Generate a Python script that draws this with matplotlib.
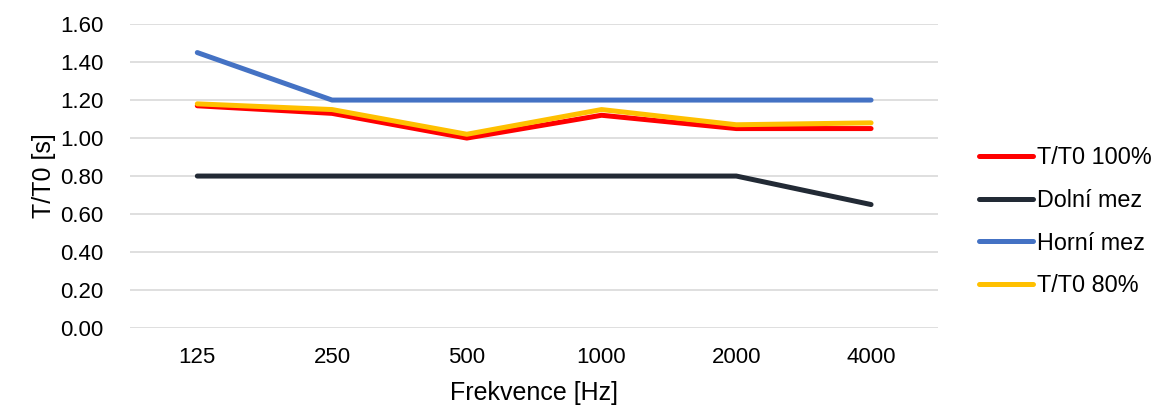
import numpy as np
import matplotlib.pyplot as plt

plt.rcParams['font.family'] = ['Liberation Sans', 'DejaVu Sans']

# data
frekvence = ['125', '250', '500', '1000', '2000', '4000']
t_100 = [1.17, 1.13, 1.00, 1.12, 1.05, 1.05]
dolni_mez = [0.80, 0.80, 0.80, 0.80, 0.80, 0.65]
horni_mez = [1.45, 1.20, 1.20, 1.20, 1.20, 1.20]
t_80 = [1.18, 1.15, 1.02, 1.15, 1.07, 1.08]

fig = plt.figure(figsize=(11.6, 4.08), dpi=100)
ax = fig.add_axes([0.112, 0.196, 0.697, 0.745])

x = np.arange(len(frekvence))
ax.plot(x, t_100, color='#FF0000', lw=3.6, solid_capstyle='round', label='T/T0 100%')
ax.plot(x, dolni_mez, color='#222A35', lw=3.6, solid_capstyle='round', label='Dolní mez')
ax.plot(x, horni_mez, color='#4472C4', lw=3.6, solid_capstyle='round', label='Horní mez')
ax.plot(x, t_80, color='#FFC000', lw=3.6, solid_capstyle='round', label='T/T0 80%')

ax.set_xlim(-0.5, len(frekvence) - 0.5)
ax.set_ylim(0, 1.6)
ax.set_yticks(np.arange(0, 1.61, 0.2))
ax.set_yticklabels([f'{v:.2f}' for v in np.arange(0, 1.61, 0.2)])
ax.set_xticks(x)
ax.set_xticklabels(frekvence)
ax.tick_params(length=0, labelsize=16)
ax.tick_params(axis='y', pad=19)
ax.tick_params(axis='x', pad=14)
ax.grid(axis='y', color='#D9D9D9', lw=1.2)
ax.set_axisbelow(True)
for s in ax.spines.values():
    s.set_visible(False)

ax.set_xlabel('Frekvence [Hz]', fontsize=18, labelpad=9)
ax.set_ylabel('T/T0 [s]', fontsize=18, labelpad=3)

ax.legend(loc='center left', bbox_to_anchor=(1.024, 0.35), frameon=False,
          fontsize=16.8, handlelength=2.3, handletextpad=0.2, labelspacing=0.85)

fig.savefig('out.png', dpi=100)
